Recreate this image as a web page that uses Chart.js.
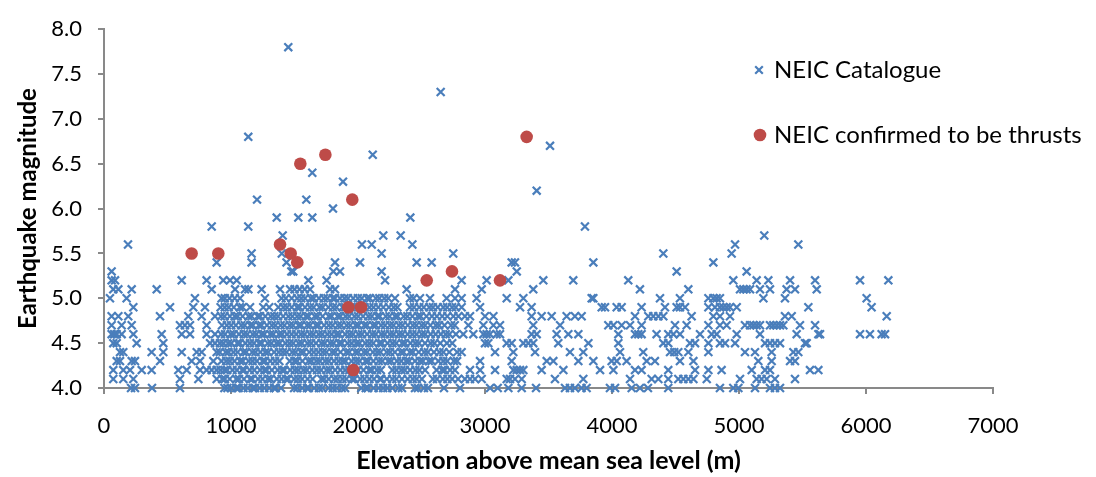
<!DOCTYPE html>
<html>
<head>
<meta charset="utf-8">
<script src="https://cdn.jsdelivr.net/npm/chart.js@4/dist/chart.umd.min.js"></script>
<style>
  html, body { margin: 0; padding: 0; background: #ffffff; }
  canvas { display: block; }
</style>
</head>
<body>
<canvas id="chart" width="1096" height="477"></canvas>
<script>
// Earthquake magnitude against elevation of the epicentre.
// NEIC catalogue events, listed by magnitude (elevations in metres).
const m4_0 = [213, 244, 378, 598, 948, 972, 1003, 1041, 1060, 1098, 1132, 1171, 1189, 1227, 1262, 1301, 1338, 1352, 1394, 1497, 1522, 1561, 1598, 1612, 1655, 1693, 1720, 1768, 1801, 1833, 1872, 1898, 2026, 2061, 2079, 2123, 2162, 2198, 2231, 2270, 2318, 2346, 2449, 2472, 2519, 2551, 2677, 2803, 3040, 3100, 3184, 3289, 3402, 3630, 3669, 3708, 3760, 3800, 3984, 4024, 4155, 4220, 4283, 4443, 4850, 4955, 4995, 5126, 5244, 5283, 5323];
const m4_1 = [73, 152, 231, 598, 743, 887, 931, 952, 990, 1041, 1063, 1102, 1150, 1167, 1213, 1248, 1290, 1312, 1361, 1398, 1433, 1450, 1497, 1528, 1560, 1603, 1642, 1711, 1733, 1769, 1812, 1840, 1877, 1908, 1953, 1972, 2018, 2051, 2090, 2126, 2171, 2183, 2227, 2270, 2302, 2346, 2391, 2431, 2462, 2503, 2590, 2622, 2668, 2704, 2741, 2788, 2842, 2882, 2921, 2974, 3171, 3197, 3236, 3289, 3551, 3774, 4142, 4312, 4365, 4443, 4522, 4562, 4601, 4641, 4746, 5008, 5139, 5178, 5218, 5283, 5441];
const m4_2 = [73, 152, 205, 297, 375, 585, 651, 756, 808, 848, 887, 918, 949, 970, 1012, 1047, 1088, 1104, 1148, 1183, 1229, 1263, 1281, 1322, 1368, 1402, 1420, 1466, 1503, 1531, 1570, 1598, 1641, 1677, 1709, 1752, 1779, 1820, 1861, 1899, 1932, 1967, 2001, 2043, 2088, 2109, 2150, 2180, 2271, 2303, 2341, 2369, 2410, 2452, 2483, 2528, 2619, 2661, 2682, 2725, 2763, 2882, 2961, 3079, 3223, 3250, 3276, 3302, 3446, 3617, 3906, 4011, 4181, 4233, 4443, 4654, 4759, 4863, 5100, 5205, 5244, 5559, 5625];
const m4_3 = [100, 126, 218, 244, 441, 690, 756, 861, 925, 962, 991, 1027, 1071, 1093, 1139, 1170, 1204, 1249, 1268, 1309, 1347, 1381, 1463, 1499, 1521, 1562, 1610, 1634, 1672, 1700, 1741, 1770, 1811, 1848, 1879, 1902, 1950, 1984, 2013, 2059, 2080, 2121, 2163, 2191, 2238, 2262, 2307, 2340, 2379, 2402, 2449, 2487, 2511, 2558, 2580, 2633, 2671, 2702, 2755, 2780, 2961, 3210, 3486, 3538, 3735, 3853, 3997, 4037, 4115, 4273, 4338, 4535, 4641, 5152, 5257, 5402, 5441];
const m4_4 = [126, 152, 375, 467, 612, 730, 769, 887, 912, 958, 981, 1019, 1052, 1098, 1120, 1167, 1193, 1231, 1270, 1293, 1340, 1377, 1409, 1438, 1482, 1509, 1549, 1571, 1617, 1652, 1688, 1723, 1751, 1796, 1820, 1862, 1908, 1931, 1979, 2002, 2047, 2072, 2118, 2151, 2177, 2226, 2253, 2290, 2337, 2358, 2409, 2432, 2478, 2521, 2550, 2598, 2641, 2672, 2719, 2781, 2816, 3079, 3223, 3394, 3669, 3774, 4063, 4246, 4457, 4490, 4522, 4601, 4759, 5047, 5126, 5257, 5428, 5467];
const m4_5 = [73, 100, 257, 467, 835, 874, 913, 941, 978, 1003, 1050, 1069, 1113, 1149, 1181, 1222, 1242, 1290, 1318, 1359, 1383, 1428, 1461, 1490, 1533, 1558, 1602, 1631, 1669, 1712, 1738, 1781, 1808, 1851, 1872, 1918, 1950, 1987, 2011, 2057, 2089, 2120, 2168, 2188, 2233, 2271, 2301, 2348, 2370, 2413, 2451, 2480, 2528, 2572, 2602, 2648, 2700, 2742, 3000, 3026, 3171, 3210, 3302, 3341, 3380, 3577, 3814, 4050, 4404, 4443, 4614, 4654, 4759, 4850, 4890, 4969, 5205, 5244, 5283, 5323, 5520, 5533];
const m4_6 = [60, 80, 100, 139, 231, 454, 612, 677, 808, 874, 922, 953, 997, 1021, 1063, 1101, 1128, 1172, 1199, 1240, 1262, 1309, 1333, 1378, 1402, 1441, 1477, 1513, 1551, 1580, 1621, 1650, 1691, 1719, 1759, 1792, 1830, 1853, 1899, 1933, 1961, 2003, 2031, 2072, 2111, 2140, 2183, 2211, 2252, 2281, 2322, 2349, 2391, 2428, 2461, 2502, 2529, 2572, 2611, 2652, 2691, 2720, 2771, 2829, 2908, 2987, 3013, 3039, 3092, 3118, 3367, 3407, 3564, 3656, 3735, 4050, 4181, 4207, 4233, 4351, 4443, 4483, 4535, 4693, 4785, 4824, 4982, 5165, 5454, 5625, 5638, 5953, 6031, 6123, 6150];
const m4_7 = [60, 139, 218, 598, 637, 677, 808, 929, 967, 1001, 1038, 1081, 1108, 1152, 1173, 1219, 1240, 1283, 1322, 1350, 1391, 1421, 1463, 1489, 1532, 1553, 1599, 1623, 1668, 1689, 1733, 1770, 1801, 1842, 1868, 1911, 1939, 1982, 2004, 2049, 2071, 2118, 2140, 2182, 2213, 2252, 2280, 2322, 2351, 2392, 2432, 2460, 2501, 2528, 2570, 2613, 2638, 2681, 2733, 2762, 2869, 2987, 3066, 3118, 3380, 3591, 3971, 4011, 4076, 4142, 4233, 4496, 4588, 4759, 4850, 4903, 5047, 5087, 5113, 5139, 5165, 5244, 5270, 5297, 5323, 5349, 5480, 5599];
const m4_8 = [60, 113, 191, 441, 664, 769, 874, 921, 949, 991, 1029, 1052, 1091, 1138, 1162, 1210, 1229, 1270, 1313, 1341, 1370, 1411, 1452, 1483, 1521, 1549, 1590, 1611, 1659, 1682, 1721, 1770, 1792, 1839, 1861, 1902, 1930, 1972, 2001, 2040, 2081, 2109, 2152, 2171, 2219, 2248, 2291, 2312, 2360, 2389, 2428, 2471, 2493, 2539, 2582, 2621, 2663, 2703, 2751, 2790, 2842, 2882, 3000, 3066, 3367, 3446, 3525, 3643, 3708, 3761, 4181, 4286, 4325, 4365, 4404, 4627, 4798, 4850, 4929, 5362, 5415, 6163];
const m4_9 = [231, 520, 703, 795, 918, 951, 982, 1022, 1069, 1091, 1150, 1254, 1301, 1373, 1412, 1441, 1478, 1520, 1541, 1583, 1622, 1651, 1697, 1722, 1767, 1803, 1831, 1878, 1899, 1944, 1981, 2009, 2052, 2090, 2122, 2160, 2199, 2243, 2281, 2310, 2409, 2441, 2482, 2518, 2561, 2590, 2628, 2671, 2702, 2741, 2770, 2816, 2961, 3276, 3367, 3919, 3945, 4037, 4076, 4233, 4417, 4509, 4535, 4575, 4759, 4811, 4850, 4876, 4903, 4929, 4982, 5546, 6044];
const m5_0 = [47, 178, 716, 926, 951, 988, 1029, 1071, 1267, 1398, 1432, 1478, 1521, 1553, 1583, 1629, 1651, 1692, 1731, 1760, 1801, 1819, 1858, 1893, 1921, 1962, 1999, 2030, 2071, 2093, 2140, 2168, 2207, 2238, 2291, 2409, 2438, 2488, 2567, 2698, 2764, 2816, 2934, 3171, 3302, 3840, 3853, 4378, 4535, 4759, 4798, 4824, 4850, 5192, 5362, 6005];
const m5_1 = [73, 113, 218, 415, 848, 1032, 1110, 1137, 1241, 1386, 1465, 1500, 1540, 1580, 1622, 1780, 1819, 2383, 2764, 2974, 3380, 4220, 4601, 5008, 5034, 5060, 5087, 5165, 5244, 5375, 5441, 5612];
const m5_2 = [60, 87, 612, 808, 939, 992, 1045, 1609, 1753, 2213, 2816, 3013, 3184, 3459, 3695, 4128, 4955, 5139, 5231, 5402, 5599, 5953, 6176];
const m5_3 = [60, 1475, 1490, 1806, 1858, 2186, 3250, 4509, 5060];
const m5_4 = [887, 1162, 1437, 1819, 2016, 2462, 2580, 3210, 3236, 3853, 4798];
const m5_5 = [1162, 1400, 2186, 2750, 4404, 4942];
const m5_6 = [189, 2031, 2108, 2428, 4969, 5467];
const m5_7 = [1407, 2199, 2336, 5199];
const m5_8 = [848, 1136, 3787];
const m5_9 = [1360, 1530, 1640, 2412];
const m6_0 = [1803];
const m6_1 = [1205, 1593];
const m6_2 = [3407];
const m6_3 = [1882];
const m6_4 = [1640];
const m6_6 = [2116];
const m6_7 = [3512];
const m6_8 = [1136];
const m7_3 = [2651];
const m7_8 = [1451];

// Events confirmed by NEIC as thrust faulting.
const thrustElevation = [690, 900, 1386, 1470, 1522, 1546, 1743, 1955, 1924, 2024, 1963, 2541, 2740, 3118, 3328];
const thrustMagnitude = [5.5, 5.5, 5.6, 5.5, 5.4, 6.5, 6.6, 6.1, 4.9, 4.9, 4.2, 5.2, 5.3, 5.2, 6.8];

// Axis tick labels.
const xTickLabels = ['0', '1000', '2000', '3000', '4000', '5000', '6000', '7000'];
const yTickLabels = ['4.0', '4.5', '5.0', '5.5', '6.0', '6.5', '7.0', '7.5', '8.0'];

const seriesNames = ['NEIC Catalogue', 'NEIC confirmed to be thrusts'];

const catalogueRows = [
  [4.0, m4_0], [4.1, m4_1], [4.2, m4_2], [4.3, m4_3], [4.4, m4_4],
  [4.5, m4_5], [4.6, m4_6], [4.7, m4_7], [4.8, m4_8], [4.9, m4_9],
  [5.0, m5_0], [5.1, m5_1], [5.2, m5_2], [5.3, m5_3], [5.4, m5_4],
  [5.5, m5_5], [5.6, m5_6], [5.7, m5_7], [5.8, m5_8], [5.9, m5_9],
  [6.0, m6_0], [6.1, m6_1], [6.2, m6_2], [6.3, m6_3], [6.4, m6_4],
  [6.6, m6_6], [6.7, m6_7], [6.8, m6_8], [7.3, m7_3], [7.8, m7_8]
];

const cataloguePoints = [];
catalogueRows.forEach(([mag, elevs]) => {
  elevs.forEach(e => cataloguePoints.push({ x: e, y: mag }));
});
const thrustPoints = thrustElevation.map((e, i) => ({ x: e, y: thrustMagnitude[i] }));

const BLUE = '#4a7ebb';
const RED = '#be4b48';
const AXIS = '#898989';
const FONT = 'Lato, "Open Sans", "DejaVu Sans", sans-serif';

// Legend drawn inside the plot, to the right of the data.
const insideLegend = {
  id: 'insideLegend',
  afterDraw(chart) {
    const ctx = chart.ctx;
    ctx.save();
    // cross marker
    const cx = 759, cy = 70, d = 3.8;
    ctx.strokeStyle = BLUE;
    ctx.lineWidth = 2.2;
    ctx.beginPath();
    ctx.moveTo(cx - d, cy - d); ctx.lineTo(cx + d, cy + d);
    ctx.moveTo(cx - d, cy + d); ctx.lineTo(cx + d, cy - d);
    ctx.stroke();
    // filled circle marker
    ctx.fillStyle = RED;
    ctx.beginPath();
    ctx.arc(760, 135, 6.3, 0, Math.PI * 2);
    ctx.fill();
    ctx.fillStyle = '#000000';
    ctx.font = '24px ' + FONT;
    ctx.textBaseline = 'middle';
    ctx.textAlign = 'left';
    ctx.fillText(seriesNames[0], 774, 70);
    ctx.fillText(seriesNames[1], 774, 135);
    ctx.restore();
  }
};

new Chart(document.getElementById('chart'), {
  type: 'scatter',
  data: {
    datasets: [
      {
        label: seriesNames[0],
        data: cataloguePoints,
        pointStyle: 'crossRot',
        radius: 5.6,
        borderWidth: 2.2,
        borderColor: BLUE,
        backgroundColor: BLUE,
        clip: false,
        order: 1
      },
      {
        label: seriesNames[1],
        data: thrustPoints,
        pointStyle: 'circle',
        radius: 6.3,
        borderWidth: 0,
        backgroundColor: RED,
        borderColor: RED,
        clip: false,
        order: 0
      }
    ]
  },
  options: {
    responsive: false,
    animation: false,
    events: [],
    layout: { padding: { top: 19, right: 103, bottom: 0, left: 0 } },
    plugins: { legend: { display: false }, tooltip: { enabled: false } },
    scales: {
      x: {
        type: 'linear',
        min: 0,
        max: 7000,
        ticks: {
          stepSize: 1000,
          color: '#000000',
          padding: 19,
          maxRotation: 0,
          font: { family: FONT, size: 22 },
          callback: v => xTickLabels[Math.round(v / 1000)]
        },
        grid: { drawOnChartArea: false, drawTicks: true, tickLength: 6, color: AXIS, lineWidth: 2 },
        border: { display: true, color: AXIS, width: 2 },
        title: {
          display: true,
          text: 'Elevation above mean sea level (m)',
          color: '#000000',
          font: { family: FONT, size: 25, weight: 'bold' },
          padding: { top: 0, bottom: 1 }
        },
        afterFit: s => { s.height = 89; }
      },
      y: {
        type: 'linear',
        min: 4,
        max: 8,
        ticks: {
          stepSize: 0.5,
          color: '#000000',
          padding: 16,
          font: { family: FONT, size: 22 },
          callback: v => yTickLabels[Math.round((v - 4) / 0.5)]
        },
        grid: { drawOnChartArea: false, drawTicks: true, tickLength: 6, color: AXIS, lineWidth: 2 },
        border: { display: true, color: AXIS, width: 2 },
        title: {
          display: true,
          text: 'Earthquake magnitude',
          color: '#000000',
          font: { family: FONT, size: 24, weight: 'bold' },
          padding: { top: 14, bottom: 0 }
        },
        afterFit: s => { s.width = 104; }
      }
    }
  },
  plugins: [insideLegend]
});
</script>
</body>
</html>
